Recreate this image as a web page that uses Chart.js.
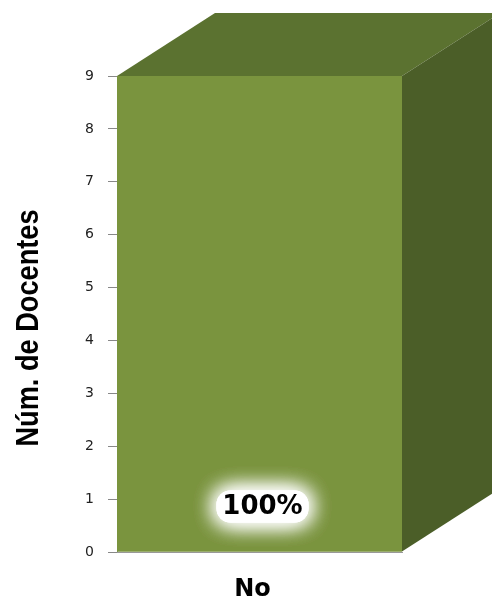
<!DOCTYPE html>
<html>
<head>
<meta charset="utf-8">
<script src="https://cdn.jsdelivr.net/npm/chart.js@4.4.0/dist/chart.umd.min.js"></script>
<style>
  html, body { margin: 0; padding: 0; background: #fff; }
  #wrap { width: 492px; height: 602px; }
</style>
</head>
<body>
<div id="wrap"><canvas id="docentesChart"></canvas></div>
<script>
const categories = ['No'];
const docentes = [9];
const percentLabels = ['100%'];
const yTitle = 'Núm. de Docentes';
const yMax = 9;

// front / top / side colours of the 3d bar
const frontColor = '#7a943e';
const topColor = '#5b7230';
const sideColor = '#4b5e28';
const depthX = 98;
const depthY = 63;

// draws the top + right faces, the glowing % label and the narrow axis title
const bar3d = {
  id: 'bar3d',
  afterDatasetsDraw(chart) {
    const ctx = chart.ctx;
    const meta = chart.getDatasetMeta(0);
    meta.data.forEach((bar, i) => {
      const left = bar.x - bar.width / 2;
      const right = bar.x + bar.width / 2;
      const top = bar.y;
      const base = bar.base;

      ctx.save();
      ctx.fillStyle = topColor;
      ctx.beginPath();
      ctx.moveTo(left, top);
      ctx.lineTo(left + depthX, top - depthY);
      ctx.lineTo(right + depthX, top - depthY);
      ctx.lineTo(right, top);
      ctx.closePath();
      ctx.fill();

      ctx.fillStyle = sideColor;
      ctx.beginPath();
      ctx.moveTo(right, top);
      ctx.lineTo(right + depthX, top - depthY);
      ctx.lineTo(right + depthX, base - depthY);
      ctx.lineTo(right, base);
      ctx.closePath();
      ctx.fill();

      // label with white glow
      const cx = bar.x + 3;
      const cy = base - 45;
      ctx.shadowColor = '#fff';
      ctx.shadowBlur = 22;
      ctx.fillStyle = '#fff';
      ctx.beginPath();
      ctx.roundRect(cx - 46, cy - 16, 92, 32, 14);
      ctx.fill();
      ctx.fill();
      ctx.fill();
      ctx.shadowBlur = 0;
      ctx.fillStyle = '#000';
      ctx.font = 'bold 26px "DejaVu Sans"';
      ctx.textAlign = 'center';
      ctx.textBaseline = 'middle';
      ctx.fillText(percentLabels[i], cx, cy + 1);
      ctx.restore();
    });

    // y title, squeezed like a narrow font
    const y = chart.scales.y;
    ctx.save();
    ctx.font = 'bold 32px "Liberation Sans"';
    ctx.fillStyle = '#000';
    ctx.textAlign = 'center';
    ctx.textBaseline = 'middle';
    const w = ctx.measureText(yTitle).width;
    ctx.translate(29, (y.top + y.bottom) / 2 + 14);
    ctx.rotate(-Math.PI / 2);
    ctx.scale(237 / w, 1);
    ctx.fillText(yTitle, 0, 0);
    ctx.restore();
  }
};

new Chart(document.getElementById('docentesChart'), {
  type: 'bar',
  data: {
    labels: categories,
    datasets: [{
      label: yTitle,
      data: docentes,
      backgroundColor: frontColor,
      borderWidth: 0,
      barPercentage: 1,
      categoryPercentage: 1
    }]
  },
  options: {
    responsive: true,
    maintainAspectRatio: false,
    animation: false,
    layout: { padding: { top: 76, right: 90, left: 0, bottom: 0 } },
    plugins: {
      legend: { display: false },
      tooltip: { enabled: false }
    },
    scales: {
      y: {
        min: 0,
        max: yMax,
        ticks: {
          stepSize: 1,
          color: '#222',
          font: { family: 'DejaVu Sans', size: 14 },
          padding: 14
        },
        grid: { drawOnChartArea: false, tickLength: 9, tickColor: '#888' },
        border: { color: '#888', width: 1 },
        afterFit(scale) { scale.width = 117; }
      },
      x: {
        ticks: {
          color: '#000',
          font: { family: 'DejaVu Sans', size: 24, weight: 'bold' },
          padding: 23,
          labelOffset: -7
        },
        grid: { drawOnChartArea: false, drawTicks: false },
        border: { color: '#999', width: 1 },
        afterFit(scale) { scale.height = 50; }
      }
    }
  },
  plugins: [bar3d]
});
</script>
</body>
</html>
